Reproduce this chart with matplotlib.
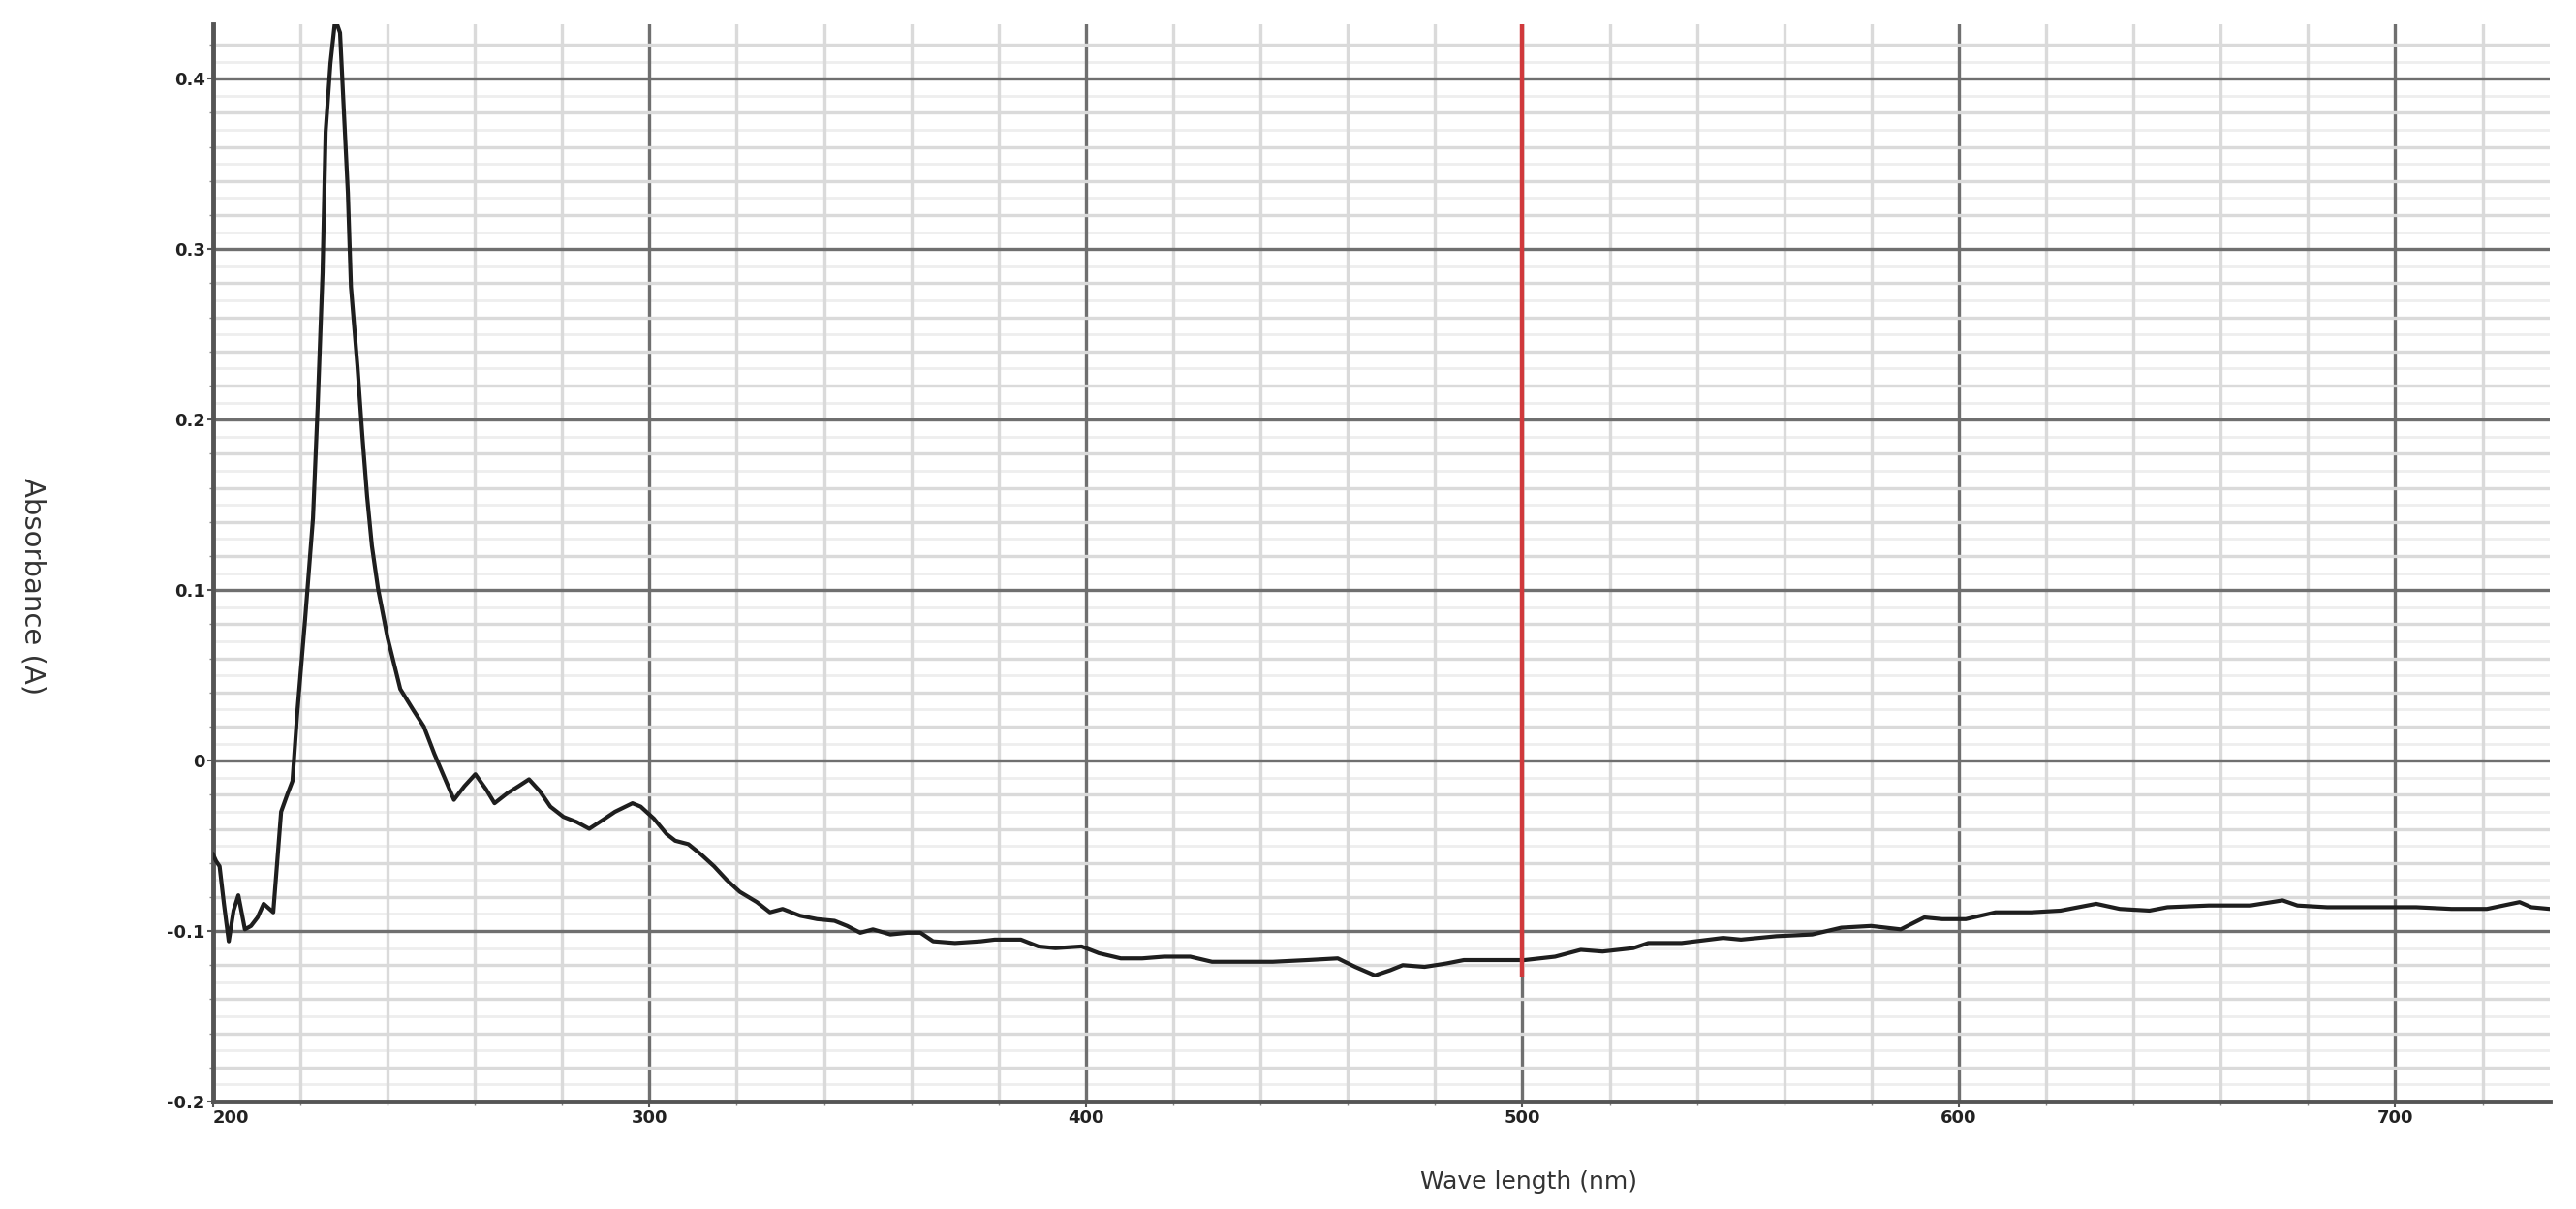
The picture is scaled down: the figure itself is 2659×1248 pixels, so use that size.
#%%
# Imports
import numpy as np
import matplotlib
matplotlib.use("Agg")
import matplotlib.pyplot as plt
from matplotlib.ticker import MultipleLocator

# Spectrum
wavelength = [200.0, 200.7, 201.5, 202.5, 203.6, 204.7, 205.8, 207.3, 208.7, 210.2,
              211.6, 213.8, 215.6, 217.0, 218.2, 219.3, 221.1, 222.9, 224.0, 225.1,
              225.8, 226.9, 228.0, 229.1, 229.8, 230.9, 231.6, 233.1, 234.2, 235.3,
              236.4, 237.8, 240.0, 242.9, 245.8, 248.3, 250.7, 253.2, 255.2, 257.6,
              260.1, 262.6, 264.5, 267.5, 270.0, 272.4, 274.9, 277.3, 280.3, 283.3,
              286.2, 289.2, 292.1, 296.1, 298.0, 301.0, 303.9, 305.9, 308.9, 311.8,
              314.8, 317.7, 320.7, 324.6, 327.6, 330.5, 334.5, 338.4, 342.4, 345.3,
              348.3, 351.2, 355.2, 359.1, 362.1, 365.0, 370.0, 375.9, 379.1, 385.1,
              389.1, 393.0, 399.0, 403.0, 408.0, 412.9, 417.9, 423.9, 428.9, 434.8,
              442.8, 450.7, 457.7, 461.7, 466.2, 469.7, 472.6, 477.6, 482.6, 486.6,
              492.5, 500.5, 507.5, 513.4, 518.4, 525.4, 528.9, 536.5, 546.0, 550.1,
              558.2, 566.4, 573.1, 579.9, 586.7, 592.1, 596.2, 601.6, 608.4, 616.6,
              623.3, 631.5, 636.9, 643.7, 647.8, 657.3, 666.8, 674.2, 677.6, 684.4,
              691.2, 699.3, 704.8, 712.9, 721.0, 728.5, 731.2, 735.4]
absorbance = [-0.055, -0.059, -0.062, -0.084, -0.106, -0.088, -0.079, -0.099, -0.097, -0.092,
              -0.084, -0.089, -0.030, -0.020, -0.012, 0.028, 0.083, 0.142, 0.209, 0.286,
              0.369, 0.409, 0.435, 0.427, 0.390, 0.333, 0.278, 0.231, 0.191, 0.155,
              0.126, 0.101, 0.072, 0.042, 0.030, 0.020, 0.004, -0.011, -0.023, -0.015,
              -0.008, -0.017, -0.025, -0.019, -0.015, -0.011, -0.018, -0.027, -0.033, -0.036,
              -0.040, -0.035, -0.030, -0.025, -0.027, -0.034, -0.043, -0.047, -0.049, -0.055,
              -0.062, -0.070, -0.077, -0.083, -0.089, -0.087, -0.091, -0.093, -0.094, -0.097,
              -0.101, -0.099, -0.102, -0.101, -0.101, -0.106, -0.107, -0.106, -0.105, -0.105,
              -0.109, -0.110, -0.109, -0.113, -0.116, -0.116, -0.115, -0.115, -0.118, -0.118,
              -0.118, -0.117, -0.116, -0.121, -0.126, -0.123, -0.120, -0.121, -0.119, -0.117,
              -0.117, -0.117, -0.115, -0.111, -0.112, -0.110, -0.107, -0.107, -0.104, -0.105,
              -0.103, -0.102, -0.098, -0.097, -0.099, -0.092, -0.093, -0.093, -0.089, -0.089,
              -0.088, -0.084, -0.087, -0.088, -0.086, -0.085, -0.085, -0.082, -0.085, -0.086,
              -0.086, -0.086, -0.086, -0.087, -0.087, -0.083, -0.086, -0.087]

x_ticks = [200, 300, 400, 500, 600, 700]
y_ticks = [0.4, 0.3, 0.2, 0.1, 0, -0.1, -0.2]
y_tick_labels = ["0.4", "0.3", "0.2", "0.1", "0", "-0.1", "-0.2"]

marker_nm = 500
marker_bottom = -0.127

#%%
fig = plt.figure(figsize=(26.59, 12.48), dpi=100)
ax = fig.add_axes([0.0827, 0.0889, 0.9071, 0.8911])

x_min, x_max = 200, 735.4
y_min, y_max = -0.2, 0.432
ax.set_xlim(x_min, x_max)
ax.set_ylim(y_min, y_max)

# Faint 0.01 lines first, then the grid on top
for yv in np.arange(-0.19, 0.43, 0.02):
    ax.axhline(yv, color="#eeeeee", linewidth=2.0, zorder=0)

ax.xaxis.set_major_locator(MultipleLocator(100))
ax.xaxis.set_minor_locator(MultipleLocator(20))
ax.yaxis.set_major_locator(MultipleLocator(0.1))
ax.yaxis.set_minor_locator(MultipleLocator(0.02))
ax.grid(which="minor", color="#dadada", linewidth=2.4, zorder=0)
ax.grid(which="major", color="#6f6f6f", linewidth=2.4, zorder=1)
ax.set_axisbelow(True)

# Spectrum + red marker
ax.plot(wavelength, absorbance, color="#1e1e1e", linewidth=3.0, zorder=3)
ax.vlines(marker_nm, marker_bottom, y_max, color="#d0393b", linewidth=3.2, zorder=4)

# Axes frame: only left and bottom
for side in ["top", "right"]:
    ax.spines[side].set_visible(False)
for side in ["left", "bottom"]:
    ax.spines[side].set_color("#555555")
    ax.spines[side].set_linewidth(3.5)

tick_font = dict(family=["Liberation Sans Narrow", "DejaVu Sans"], weight="bold", size=13, color="#222222")
ax.set_xticks(x_ticks)
ax.set_xticklabels([str(v) for v in x_ticks], **tick_font)
ax.set_yticks(y_ticks)
ax.set_yticklabels(y_tick_labels, **tick_font)
ax.xaxis.get_ticklabels()[0].set_horizontalalignment("left")
ax.tick_params(axis="both", which="major", length=4, width=1.5, color="#555555", pad=2)
ax.tick_params(axis="both", which="minor", length=3, width=1, color="#888888")

ax.set_xlabel("Wave length (nm)", fontsize=18, color="#333333")
ax.xaxis.set_label_coords(0.563, -0.064)
ax.set_ylabel("Absorbance (A)", fontsize=21, color="#333333", rotation=270)
ax.yaxis.set_label_coords(-0.083, 0.478)

fig.savefig("out.png", dpi=100)
